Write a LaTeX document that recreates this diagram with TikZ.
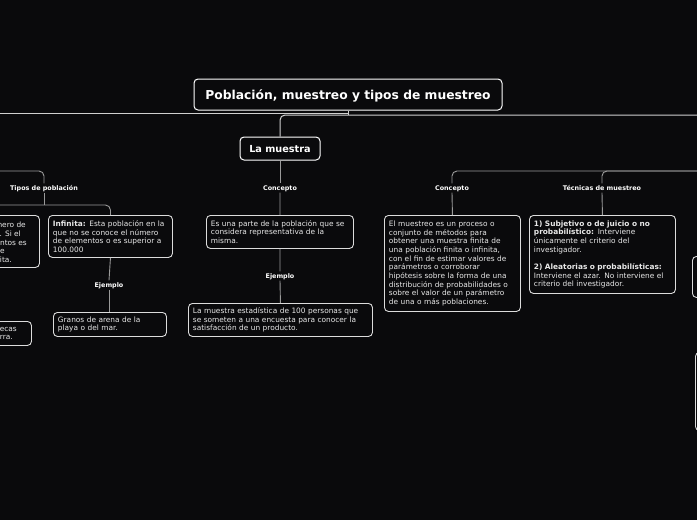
\documentclass[tikz,border=0pt]{standalone}
\usepackage{fontspec}
\setmainfont{DejaVu Sans}
\definecolor{bg}{HTML}{0A0A0C}
\definecolor{connc}{HTML}{9A9A9A}
\definecolor{mainc}{HTML}{D0D0D0}
\definecolor{boxc}{HTML}{DCDCDC}
\definecolor{txt}{HTML}{E8E8E8}
\begin{document}
\begin{tikzpicture}[x=1pt,y=-1pt,
  box/.style={draw=boxc, line width=0.9pt, rounded corners=4pt, fill=bg, text=txt,
    align=left, inner xsep=4.5pt, inner ysep=0pt, anchor=north west,
    font=\fontsize{7.4}{8.7}\selectfont},
  frag/.style={text=txt, inner sep=0pt, anchor=base east, font=\fontsize{7.4}{8.7}\selectfont},
  lbl/.style={text=white, inner sep=2pt, text height=4.7pt, text depth=0pt,
    font=\fontsize{6.4}{7.5}\selectfont\bfseries},
  titlebox/.style={draw=white, line width=1pt, rounded corners=4pt, fill=bg, text=white,
    minimum width=308, minimum height=31, inner sep=0pt, text height=9pt, text depth=0pt,
    font=\fontsize{12.3}{14}\selectfont\bfseries},
  subbox/.style={draw=white, line width=1pt, rounded corners=4pt, fill=bg, text=white,
    minimum width=80, minimum height=23, inner sep=0pt, text height=7pt, text depth=0pt,
    font=\fontsize{9.7}{11}\selectfont\bfseries},
  conn/.style={draw=connc, line width=0.9pt, rounded corners=5pt},
  mainln/.style={draw=mainc, line width=1pt, rounded corners=5pt},
]
\fill[bg] (0,0) rectangle (697,520);
\useasboundingbox (0,0) rectangle (697,520);

% coordinates for free ends
\coordinate (mlL) at (0,113);
\coordinate (mlR) at (697,115);
\coordinate (lL) at (0,171);
\coordinate (rR) at (697,171);
\coordinate (tL) at (0,205);

% main nodes
\node[titlebox] (title) at (348,94.5) {Población, muestreo y tipos de muestreo};
\node[subbox] (lm) at (280,148.5) {La muestra};

% labels
\node[lbl] (tipos) at (44,188) {Tipos de población};
\node[lbl] (conc1) at (280,188) {Concepto};
\node[lbl] (ej1) at (109,285) {Ejemplo};
\node[lbl] (ej2) at (280,276) {Ejemplo};
\node[lbl] (conc2) at (452,188) {Concepto};
\node[lbl] (tec) at (602,188) {Técnicas de muestreo};

% boxes
\node[box, text width=115, minimum height=42] (infinita) at (48,215)
  {\textbf{Infinita:} Esta población en la\\que no se conoce el número\\de elementos o es superior a\\100.000};
\node[box, text width=104, minimum height=24] (granos) at (53,312)
  {Granos de arena de la\\playa o del mar.};
\node[box, text width=138, minimum height=33] (esuna) at (206,215)
  {Es una parte de la población que se\\considera representativa de la\\misma.};
\node[box, text width=175, minimum height=33] (lmest) at (188,303)
  {La muestra estadística de 100 personas que\\se someten a una encuesta para conocer la\\satisfacción de un producto.};
\node[box, text width=127, minimum height=96] (muestreo) at (384,215)
  {El muestreo es un proceso o\\conjunto de métodos para\\obtener una muestra finita de\\una población finita o infinita,\\con el fin de estimar valores de\\parámetros o corroborar\\hipótesis sobre la forma de una\\distribución de probabilidades o\\sobre el valor de un parámetro\\de una o más poblaciones.};
\node[box, text width=137, minimum height=78] (tecbox) at (529,215)
  {\textbf{1) Subjetivo o de juicio o no}\\\textbf{probabilístico:} Interviene\\únicamente el criterio del\\investigador.\\[8.7pt]\textbf{2) Aleatorias o probabilísticas:}\\Interviene el azar. No interviene el\\criterio del investigador.};

% partial boxes at the edges
\node[box, minimum width=99, minimum height=52] (left1) at (-60,215) {};
\node[box, minimum width=91, minimum height=24] (left2) at (-60,321) {};
\node[box, minimum width=68, minimum height=41] (right1) at (692,256) {};
\node[box, minimum width=65, minimum height=78] (right2) at (695,352) {};

\node[frag] (f1) at (26,227.8) {mero de};
\node[frag] (f2) at (21,236.5) {. Si el};
\node[frag] (f3) at (27,245.2) {ntos es};
\node[frag] (f4) at (5,253.9) {e};
\node[frag] (f5) at (12,262.6) {ita.};
\node[frag] (g1) at (17,331) {ecas};
\node[frag] (g2) at (13,339.7) {rra.};

% main lines
\draw[mainln] (mlL) -- (title.south |- mlL);
\draw[mainln] (title.south) -- (title.south |- mlR);
\draw[mainln] (lm.north) |- (mlR);

% connectors: La muestra branch
\draw[conn] (lm.south) -- (conc1.north);
\draw[conn] (conc1.south) -- (esuna.north);
\draw[conn] (esuna.south) -- (ej2.north);
\draw[conn] (ej2.south) -- (lmest.north);

% left branch
\draw[conn] (lL) -| (tipos.north);
\draw[conn] (tipos.south) -- (tipos.south |- tL);
\draw[conn] (tL) -| (infinita.north);
\draw[conn] (infinita.south) -- (ej1.north);
\draw[conn] (ej1.south) -- (ej1.south |- granos.north);

% right branch
\draw[conn] (rR) -| (conc2.north);
\draw[conn] (rR) -| (tec.north);
\draw[conn] (conc2.south) -- (muestreo.north);
\draw[conn] (tec.south) -- (tecbox.north);
\end{tikzpicture}
\end{document}
